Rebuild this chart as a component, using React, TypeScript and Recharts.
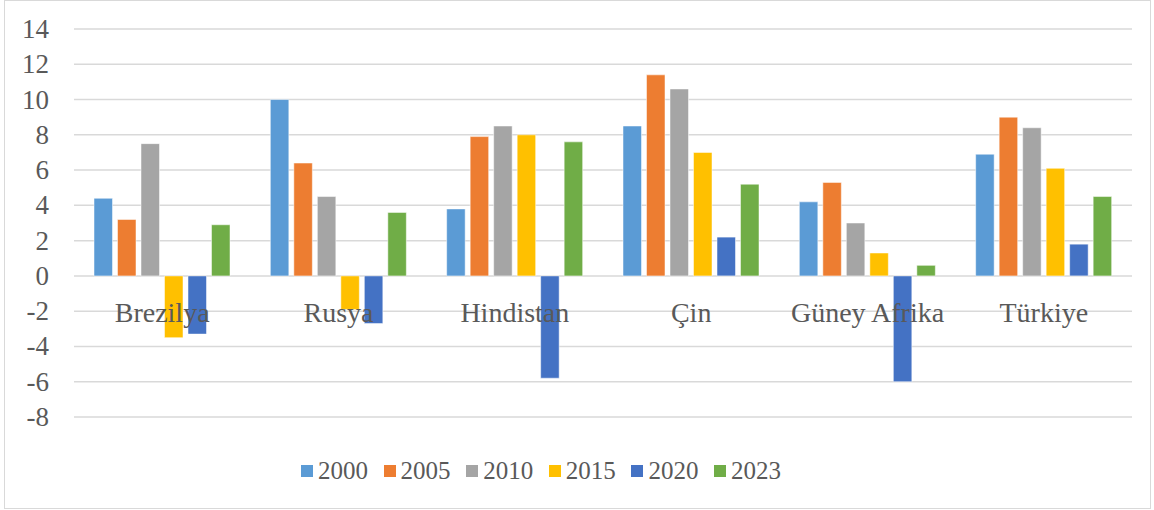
import React from 'react';
import { BarChart, Bar, XAxis, YAxis, CartesianGrid } from 'recharts';

const countries = ['Brezilya', 'Rusya', 'Hindistan', 'Çin', 'Güney Afrika', 'Türkiye'];
const years = ['2000', '2005', '2010', '2015', '2020', '2023'];
const colors = ['#5B9BD5', '#ED7D31', '#A5A5A5', '#FFC000', '#4472C4', '#70AD47'];

const v2000 = [4.4, 10.0, 3.8, 8.5, 4.2, 6.9];
const v2005 = [3.2, 6.4, 7.9, 11.4, 5.3, 9.0];
const v2010 = [7.5, 4.5, 8.5, 10.6, 3.0, 8.4];
const v2015 = [-3.5, -1.9, 8.0, 7.0, 1.3, 6.1];
const v2020 = [-3.3, -2.7, -5.8, 2.2, -6.0, 1.8];
const v2023 = [2.9, 3.6, 7.6, 5.2, 0.6, 4.5];

const yTicks = [-8, -6, -4, -2, 0, 2, 4, 6, 8, 10, 12, 14];

const series = [v2000, v2005, v2010, v2015, v2020, v2023];
const data = countries.map((name, i) => {
  const row: any = { name };
  years.forEach((y, j) => { row[y] = series[j][i]; });
  return row;
});

const W = 1154;
const H = 510;
const TOP = 29;
const BOTTOM = 92;
const Y_MIN = -8;
const Y_MAX = 14;
const PLOT_H = H - TOP - BOTTOM - 1;
const zeroY = TOP + (PLOT_H * Y_MAX) / (Y_MAX - Y_MIN);

const textColor = '#595959';
const font = 'Liberation Serif';

// category names sit just under the zero line, like Excel's "next to axis"
const CategoryTick = ({ x, payload }: any) => (
  <text x={x} y={zeroY + 46} textAnchor="middle" fill={textColor} fontSize={28} fontFamily={font}>
    {payload.value}
  </text>
);

const ValueTick = ({ y, payload }: any) => (
  <text x={49} y={y} dy={9} textAnchor="end" fill={textColor} fontSize={27} fontFamily={font}>
    {payload.value}
  </text>
);

export default function App() {
  return (
    <div style={{ position: 'fixed', top: 0, left: 0, width: W, height: H, background: '#fff' }}>
      <div style={{ position: 'absolute', left: 4, top: 0, width: 1145, height: 507, border: '1px solid #d9d9d9' }} />
      <BarChart
        width={W}
        height={H}
        data={data}
        margin={{ top: TOP, right: 22, left: 0, bottom: BOTTOM }}
        barSize={18.5}
        barGap={5}
      >
        <CartesianGrid vertical={false} stroke="#d9d9d9" strokeWidth={1.5} />
        <YAxis
          domain={[Y_MIN, Y_MAX]}
          ticks={yTicks}
          width={74}
          axisLine={false}
          tickLine={false}
          tick={<ValueTick />}
        />
        {years.map((y, i) => (
          <Bar key={y} dataKey={y} fill={colors[i]} stroke="#fff" strokeWidth={0.5} isAnimationActive={false} />
        ))}
        <XAxis dataKey="name" height={1} axisLine={false} tickLine={false} tick={<CategoryTick />} interval={0} />
      </BarChart>
      <div
        style={{
          position: 'absolute',
          left: 301,
          top: 453,
          display: 'flex',
          fontFamily: font,
          fontSize: 25,
          color: textColor,
          lineHeight: '36px',
        }}
      >
        {years.map((y, i) => (
          <div key={y} style={{ display: 'flex', alignItems: 'center', width: 82.6 }}>
            <span style={{ display: 'inline-block', width: 12, height: 12, background: colors[i], marginRight: 5 }} />
            <span>{y}</span>
          </div>
        ))}
      </div>
    </div>
  );
}
